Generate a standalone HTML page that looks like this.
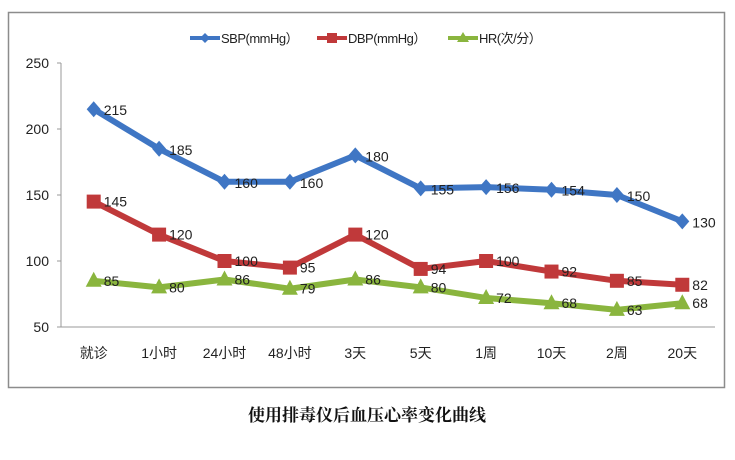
<!DOCTYPE html>
<html><head><meta charset="utf-8"><style>
body{margin:0;background:#fff;width:735px;height:455px;overflow:hidden;font-family:"Liberation Sans","Noto Sans CJK SC",sans-serif}
</style></head><body>
<svg id="c" width="735" height="455" font-family="Liberation Sans, Noto Sans CJK SC, sans-serif">
<rect x="8.5" y="12.5" width="716" height="375" fill="#fff" stroke="#8c8c8c" stroke-width="1.5"/>
<g id="legend">
 <g><line x1="190" y1="38" x2="220" y2="38" stroke="#3f76c4" stroke-width="4"/><path d="M205,33 L210,38 L205,43 L200,38Z" fill="#3f76c4"/><text x="221" y="43" font-size="13" fill="#222" letter-spacing="-0.5">SBP(mmHg）</text></g>
 <g><line x1="317" y1="38" x2="347" y2="38" stroke="#c0393a" stroke-width="4"/><rect x="327" y="33" width="10" height="10" fill="#c0393a"/><text x="348" y="43" font-size="13" fill="#222" letter-spacing="-0.5">DBP(mmHg）</text></g>
 <g><line x1="448" y1="38" x2="478" y2="38" stroke="#8ab53e" stroke-width="4"/><path d="M463,32 L469,42 L457,42Z" fill="#8ab53e"/><text x="479" y="43" font-size="13" fill="#222" letter-spacing="-0.5">HR(次/分）</text></g>
</g>
<g id="plot"></g>
<text x="367" y="421" text-anchor="middle" font-size="17" font-weight="bold" font-family="Noto Serif CJK SC, serif" fill="#111">使用排毒仪后血压心率变化曲线</text>
</svg>
<script>
const categories=["就诊","1小时","24小时","48小时","3天","5天","1周","10天","2周","20天"];
const sbp=[215,185,160,160,180,155,156,154,150,130];
const dbp=[145,120,100,95,120,94,100,92,85,82];
const hr=[85,80,86,79,86,80,72,68,63,68];
const yTicks=[50,100,150,200,250];
const NS="http://www.w3.org/2000/svg";
const g=document.getElementById('plot');
const x0=61,x1=715,yB=327,yT=63;
const xs=i=>x0+(x1-x0)/categories.length*(i+0.5);
const ys=v=>yB-(v-50)/200*(yB-yT);
function el(t,a){const e=document.createElementNS(NS,t);for(const k in a)e.setAttribute(k,a[k]);g.appendChild(e);return e;}
let ax=el('line',{x1:x0,y1:yT,x2:x0,y2:yB,stroke:'#999'});


let bx=el('line',{x1:x0,y1:yB,x2:x1,y2:yB,stroke:'#999'});


yTicks.forEach(t=>{
 el('line',{x1:x0-4,y1:ys(t),x2:x0,y2:ys(t),stroke:'#999'});
 const tx=el('text',{x:x0-12,y:ys(t)+5,'text-anchor':'end','font-size':14,fill:'#222'});tx.textContent=t;
 
 
});
categories.forEach((c,i)=>{
 const tx=el('text',{x:xs(i),y:358,'text-anchor':'middle','font-size':14,fill:'#222'});tx.textContent=c;
 
 
});
function series(data,color,shape,name,offs){
 const p=el('polyline',{points:data.map((v,i)=>xs(i)+','+ys(v)).join(' '),fill:'none',stroke:color,'stroke-width':6,'stroke-linejoin':'round'});
 
 
 data.forEach((v,i)=>{
  const x=xs(i),y=ys(v);let m;
  if(shape==='d')m=el('path',{d:`M${x},${y-8}L${x+7},${y}L${x},${y+8}L${x-7},${y}Z`,fill:color});
  else if(shape==='s')m=el('rect',{x:x-7,y:y-7,width:14,height:14,fill:color});
  else m=el('path',{d:`M${x},${y-9}L${x+8},${y+6}L${x-8},${y+6}Z`,fill:color});
  
  
  const t=el('text',{x:x+10,y:y+offs,'font-size':14,fill:'#222'});t.textContent=v;
  
  
 });
}
series(sbp,'#3f76c4','d','sbp',6);
series(dbp,'#c0393a','s','dbp',5);
series(hr,'#8ab53e','t','hr',5);
</script>
</body></html>
